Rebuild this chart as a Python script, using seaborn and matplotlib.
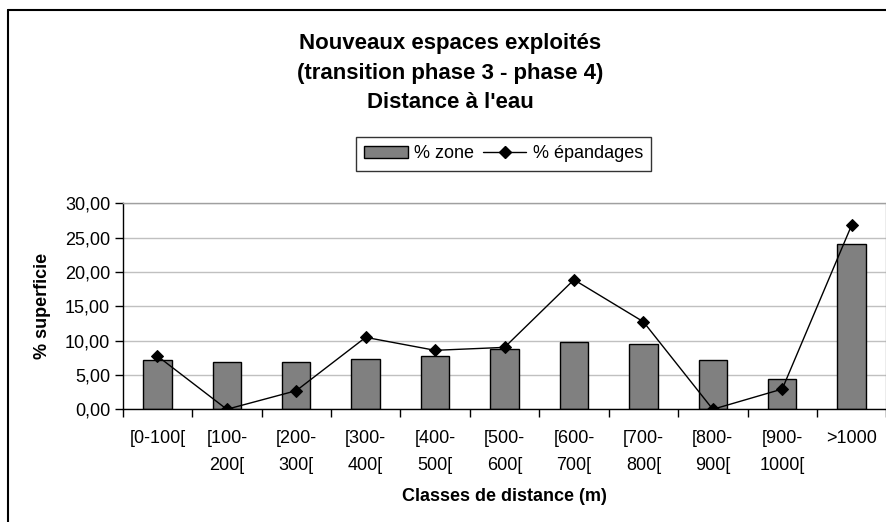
import matplotlib
matplotlib.use("Agg")
import matplotlib.pyplot as plt
import matplotlib.ticker as mticker
from matplotlib.lines import Line2D
from matplotlib.patches import Patch
import numpy as np
import pandas as pd
import seaborn as sns

# Distance classes (m) and the two percentage series
classes = ["[0-100[", "[100-\n200[", "[200-\n300[", "[300-\n400[", "[400-\n500[",
           "[500-\n600[", "[600-\n700[", "[700-\n800[", "[800-\n900[", "[900-\n1000[", ">1000"]
pct_zone = [7.18, 6.93, 6.93, 7.32, 7.76, 8.77, 9.84, 9.46, 7.13, 4.41, 24.10]
pct_epandages = [7.76, 0.0, 2.71, 10.48, 8.59, 9.02, 18.87, 12.75, 0.0, 2.95, 26.83]
y_ticks = [0, 5, 10, 15, 20, 25, 30]

title_lines = ["Nouveaux espaces exploités", "(transition phase 3 - phase 4)", "Distance à l'eau"]

df = pd.DataFrame({"classe": classes, "zone": pct_zone, "epandages": pct_epandages})

sns.set_theme(style="white", rc={"text.color": "black", "axes.labelcolor": "black",
                                 "xtick.color": "black", "ytick.color": "black"})
plt.rcParams["font.family"] = ["Liberation Sans", "DejaVu Sans"]

fig = plt.figure(figsize=(8.87, 5.22), dpi=100)
ax = fig.add_axes([0.1383, 0.2159, 0.8610, 0.3946])

sns.barplot(data=df, x="classe", y="zone", order=classes, color="#808080",
            saturation=1, width=0.41, edgecolor="black", linewidth=1.0, ax=ax)
sns.pointplot(data=df, x="classe", y="epandages", order=classes, color="black",
              markers="D", linestyles="-", markersize=6, linewidth=1.0, ax=ax)

ax.set_xlim(-0.5, len(classes) - 0.5)
ax.set_ylim(0, 30)
ax.set_yticks(y_ticks)
ax.yaxis.set_major_formatter(mticker.FuncFormatter(lambda v, p: f"{v:.2f}".replace(".", ",")))
ax.grid(axis="y", color="#c0c0c0", linewidth=1.0)
ax.set_axisbelow(True)

# Spines: black axes lines, grey frame on top/right
for side in ("left", "bottom"):
    ax.spines[side].set_color("black")
    ax.spines[side].set_linewidth(1.0)
for side in ("top", "right"):
    ax.spines[side].set_color("#a0a0a0")
    ax.spines[side].set_linewidth(1.0)

# Category labels on major ticks (no mark), tick marks between categories
ax.set_xticks(range(len(classes)))
ax.set_xticklabels(classes, fontsize=13, linespacing=1.75, va="top")
ax.tick_params(axis="x", which="major", length=0, pad=15)
ax.set_xticks(np.arange(-0.5, len(classes), 1.0), minor=True)
ax.tick_params(axis="x", which="minor", length=6, width=1.0, color="black", direction="out", bottom=True)
ax.tick_params(axis="y", length=6, width=1.0, color="black", direction="out", left=True,
               labelsize=13, pad=3)

ax.set_xlabel("Classes de distance (m)", fontsize=13, fontweight="bold", labelpad=10)
ax.set_ylabel("% superficie", fontsize=13, fontweight="bold", labelpad=10)

# Title block
for i, line in enumerate(title_lines):
    fig.text(450 / 887, 1 - (49 + 29.5 * i) / 522, line, ha="center", va="baseline",
             fontsize=16, fontweight="bold")

# Legend
handles = [Patch(facecolor="#808080", edgecolor="black", linewidth=1.0, label="% zone"),
           Line2D([0], [0], color="black", marker="D", markersize=6, linewidth=1.0, label="% épandages")]
leg = fig.legend(handles=handles, loc="center", bbox_to_anchor=(503.5 / 887, 1 - 154 / 522),
                 ncol=2, frameon=True, fancybox=False, fontsize=13, handlelength=2.4,
                 columnspacing=0.5, handletextpad=0.35, borderpad=0.45, handleheight=0.6,
                 borderaxespad=0)
leg.get_frame().set_edgecolor("black")
leg.get_frame().set_linewidth(1.0)

# Outer chart frame
fig.add_artist(plt.Line2D([8 / 887, 8 / 887], [0, 1 - 10 / 522], transform=fig.transFigure,
                          color="black", linewidth=1.5))
fig.add_artist(plt.Line2D([8 / 887, 1], [1 - 10 / 522, 1 - 10 / 522], transform=fig.transFigure,
                          color="black", linewidth=1.5))

fig.savefig("out.png", dpi=100)
